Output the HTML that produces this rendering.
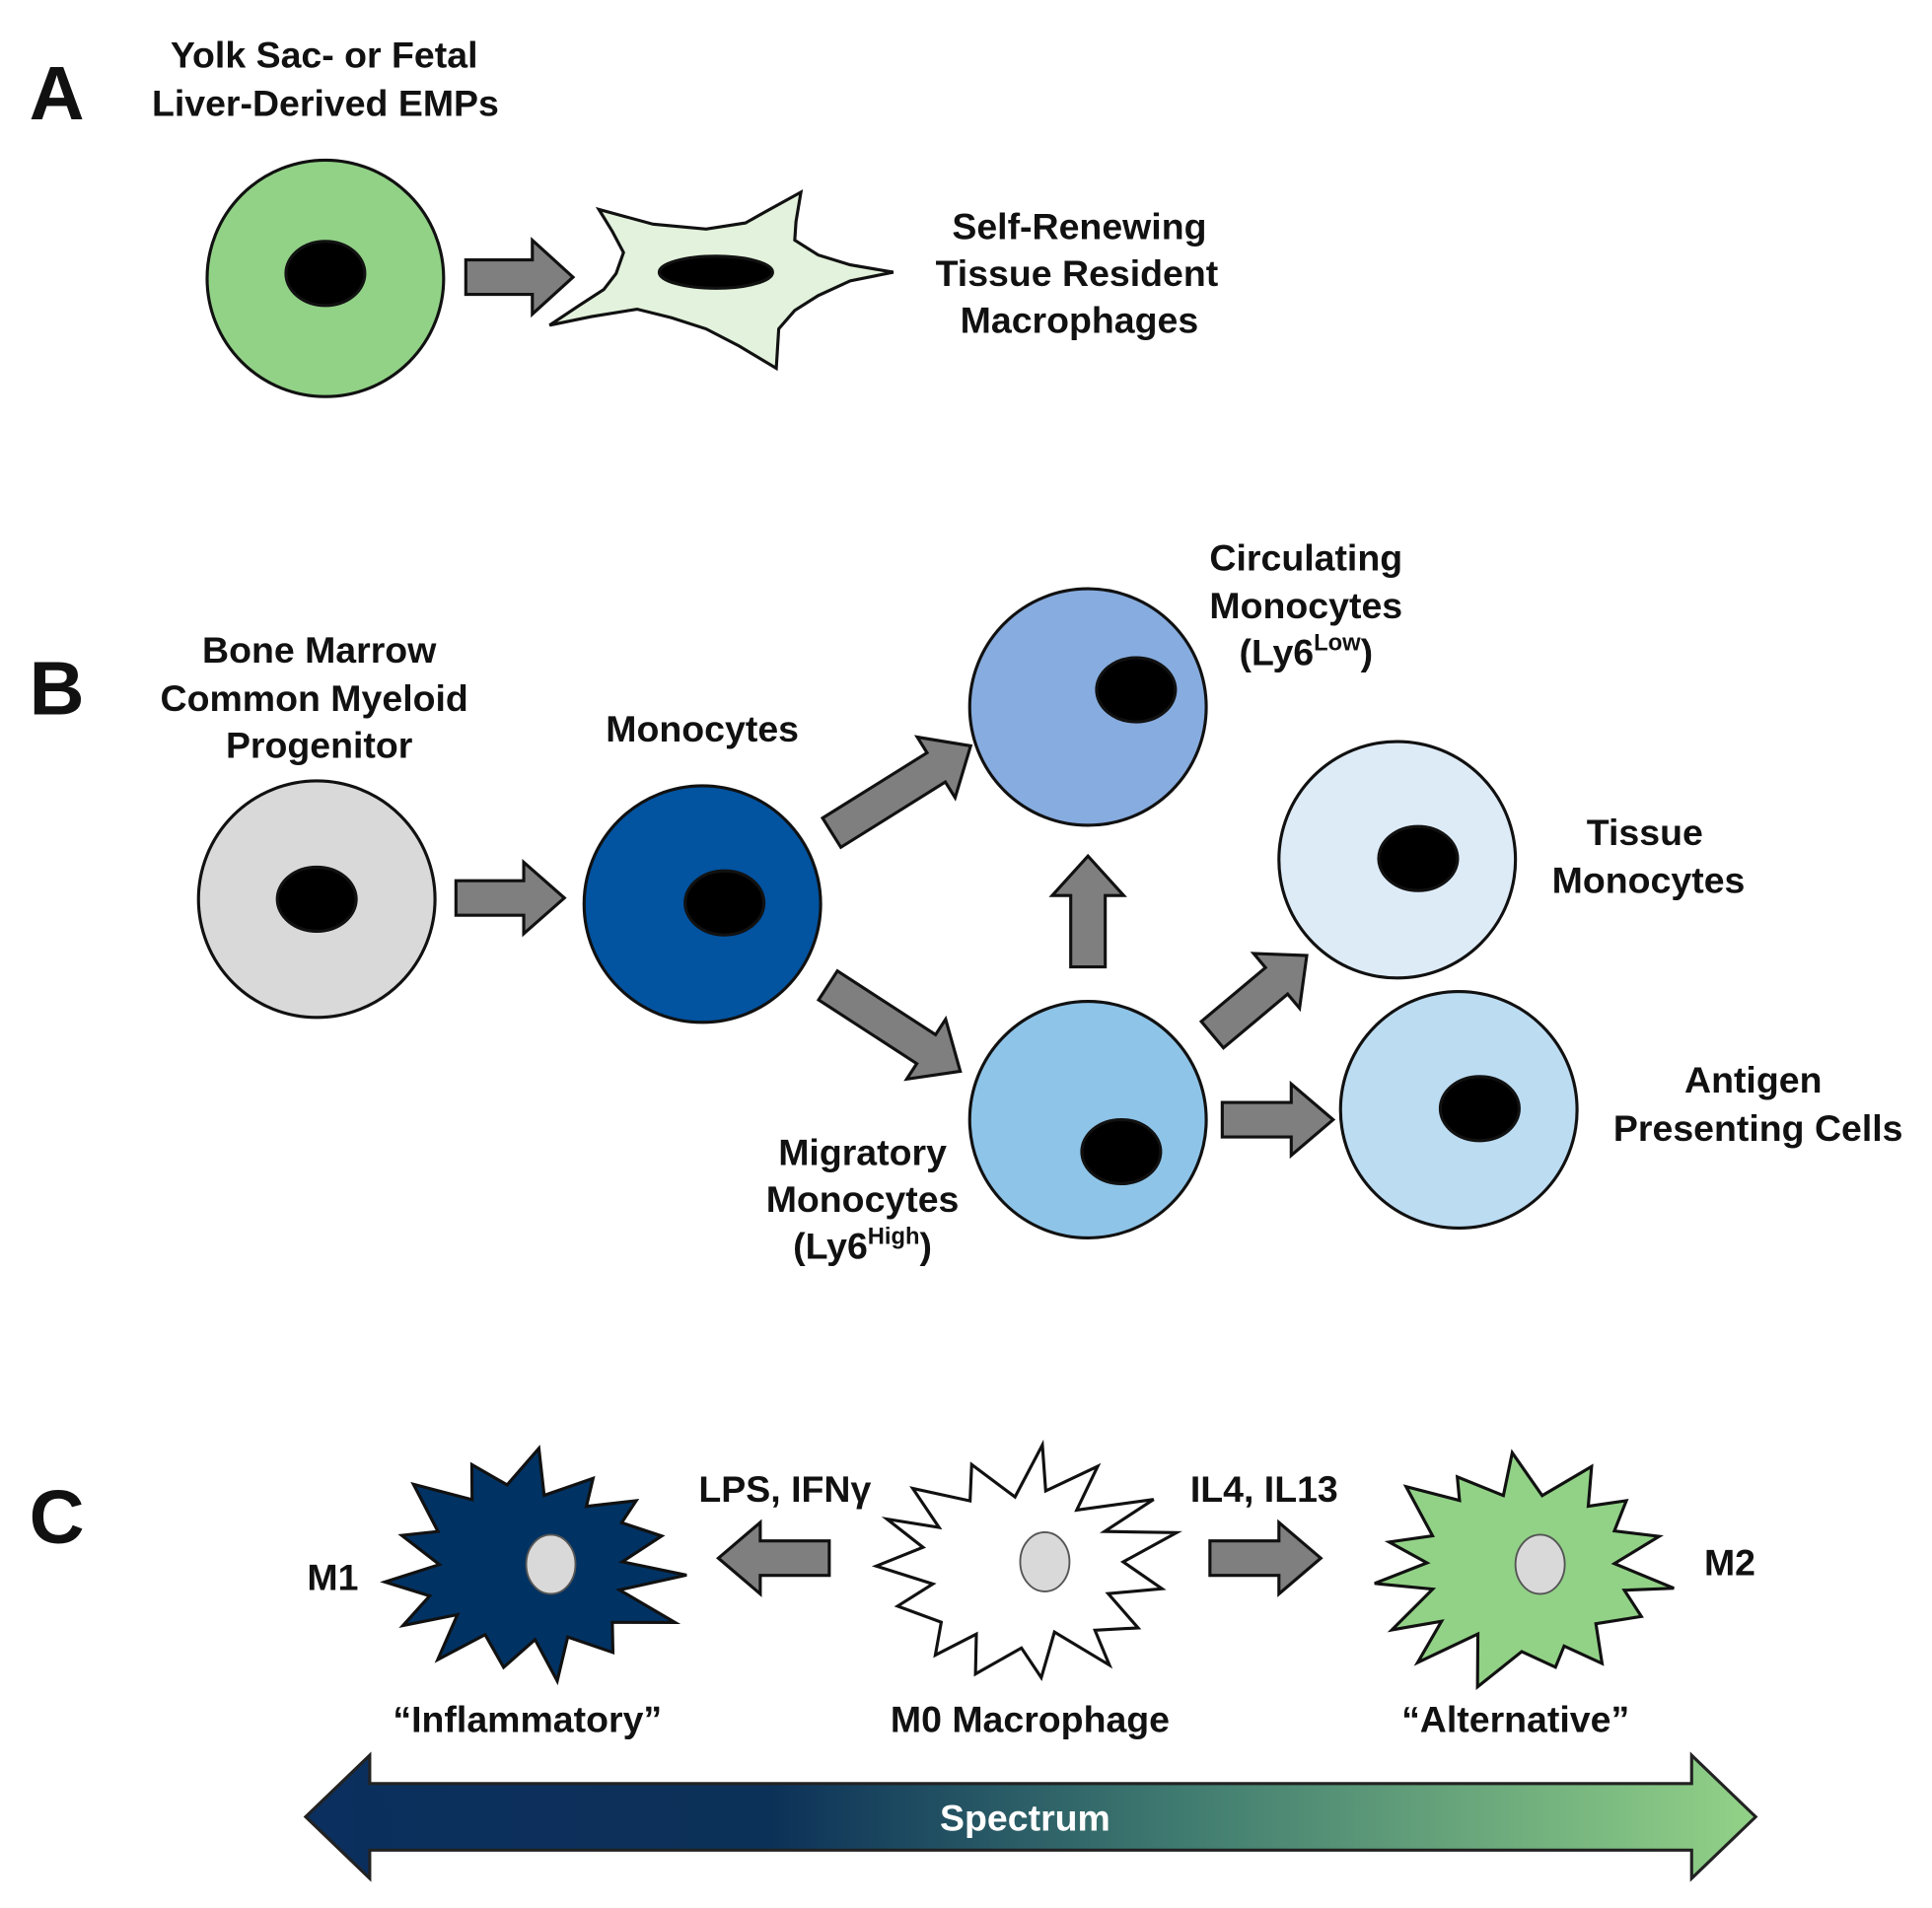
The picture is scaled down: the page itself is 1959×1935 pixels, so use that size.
<!DOCTYPE html>
<html><head><meta charset="utf-8"><style>
html,body{margin:0;padding:0;background:#fff;}
svg{display:block;}
text{font-family:"Liberation Sans",Arial,sans-serif;font-weight:bold;fill:#111;}
</style></head><body>
<svg id="s" width="1959" height="1935" viewBox="0 0 1568 1549" xmlns="http://www.w3.org/2000/svg">
<defs>
<linearGradient id="g" x1="0" x2="1" y1="0" y2="0">
<stop offset="0" stop-color="#0b2f5e"/><stop offset="0.32" stop-color="#0c3158"/>
<stop offset="0.6" stop-color="#3f7a70"/><stop offset="1" stop-color="#92d287"/>
</linearGradient>
</defs>
<g stroke="#111" stroke-width="2.5">
<!-- A -->
<circle cx="264" cy="226" r="96" fill="#92d287"/>
<ellipse cx="264" cy="222" rx="32" ry="26" fill="#000"/>
<polygon points="378,211 432,211 432,195 465,225 432,255 432,239 378,239" fill="#7f7f7f"/>
<polygon points="486,170 530,182 573,186 605,181 621,172 650,156 646,180 645,195 664,207 690,215 725,221 690,228 664,240 645,252 632,267 630,299 600,281 573,267 545,258 517,251 480,257 446,264 470,248 490,235 500,222 506,205 497,188" fill="#e2f2dc"/>
<ellipse cx="581" cy="221" rx="46" ry="13" fill="#000"/>
<!-- B -->
<circle cx="257" cy="730" r="96" fill="#d9d9d9"/>
<ellipse cx="257" cy="730" rx="32" ry="26" fill="#000"/>
<polygon points="370,715 425,715 425,700 458,729 425,758 425,743 370,743" fill="#7f7f7f"/>
<circle cx="570" cy="734" r="96" fill="#0253a0"/>
<ellipse cx="588" cy="733" rx="32" ry="26" fill="#000"/>
<circle cx="883" cy="574" r="96" fill="#87acdf"/>
<ellipse cx="922" cy="560" rx="32" ry="26" fill="#000"/>
<circle cx="883" cy="909" r="96" fill="#8ec4e8"/>
<ellipse cx="910" cy="935" rx="32" ry="26" fill="#000"/>
<circle cx="1134" cy="698" r="96" fill="#ddebf7"/>
<ellipse cx="1151" cy="697" rx="32" ry="26" fill="#000"/>
<circle cx="1184" cy="901" r="96" fill="#bcdcf2"/>
<ellipse cx="1201" cy="900" rx="32" ry="26" fill="#000"/>
<!-- arrows B -->
<polygon points="0,-14 100,-14 100,-29 133,0 100,29 100,14 0,14" fill="#7f7f7f" transform="translate(675,676) rotate(-32)"/>
<polygon points="0,-14 95,-14 95,-29 128,0 95,29 95,14 0,14" fill="#7f7f7f" transform="translate(672,800) rotate(33)"/>
<polygon points="0,-14 58,-14 58,-29 90,0 58,29 58,14 0,14" fill="#7f7f7f" transform="translate(883,785) rotate(-90)"/>
<polygon points="0,-14 68,-14 68,-29 100,0 68,29 68,14 0,14" fill="#7f7f7f" transform="translate(984,840) rotate(-40)"/>
<polygon points="992,895 1048,895 1048,880 1082,909 1048,938 1048,923 992,923" fill="#7f7f7f"/>
<!-- C arrows -->
<polygon points="673,1251 617,1251 617,1236 583,1265 617,1294 617,1279 673,1279" fill="#7f7f7f"/>
<polygon points="982,1251 1038,1251 1038,1236 1072,1265 1038,1294 1038,1279 982,1279" fill="#7f7f7f"/>
<g id="stars"></g>
<polygon points="248,1475 300,1425 300,1448 1373,1448 1373,1425 1425,1475 1373,1525 1373,1502 300,1502 300,1525" fill="url(#g)" stroke="#222"/>
</g>
<text x="46" y="97" font-size="62" text-anchor="middle">A</text>
<text x="46" y="580" font-size="62" text-anchor="middle">B</text>
<text x="46" y="1253" font-size="62" text-anchor="middle">C</text>
<g font-size="30" text-anchor="middle">
<text x="263" y="55">Yolk Sac- or Fetal</text>
<text x="264" y="94">Liver-Derived EMPs</text>
<text x="876" y="194">Self-Renewing</text>
<text x="874" y="232">Tissue Resident</text>
<text x="876" y="270">Macrophages</text>
<text x="259" y="538">Bone Marrow</text>
<text x="255" y="577">Common Myeloid</text>
<text x="259" y="615">Progenitor</text>
<text x="570" y="602">Monocytes</text>
<text x="1060" y="463">Circulating</text>
<text x="1060" y="502">Monocytes</text>
<text x="1060" y="540">(Ly6<tspan font-size="19" dy="-12">Low</tspan><tspan dy="12">)</tspan></text>
<text x="1335" y="686">Tissue</text>
<text x="1338" y="725">Monocytes</text>
<text x="700" y="946">Migratory</text>
<text x="700" y="984">Monocytes</text>
<text x="700" y="1022">(Ly6<tspan font-size="19" dy="-12">High</tspan><tspan dy="12">)</tspan></text>
<text x="1423" y="887">Antigen</text>
<text x="1427" y="926">Presenting Cells</text>
<text x="637" y="1219">LPS, IFNγ</text>
<text x="1026" y="1219">IL4, IL13</text>
<text x="270" y="1291">M1</text>
<text x="1404" y="1279">M2</text>
<text x="428" y="1406">“Inflammatory”</text>
<text x="836" y="1406">M0 Macrophage</text>
<text x="1230" y="1406">“Alternative”</text>
<text x="832" y="1486" style="fill:#fff">Spectrum</text>
</g>
</svg>
<script>
(function(){
var g=document.getElementById('stars');
function star(cx,cy,n,rox,roy,rix,riy,fill,seed,rot,nx){
 var pts=[];var s=seed;
 function r(){s=(s*9301+49297)%233280;return s/233280;}
 for(var i=0;i<2*n;i++){
  var a=rot+Math.PI*i/n+(r()-0.5)*0.14;
  var k=(i%2==0)?(0.82+0.2*r()):(0.85+0.25*r());
  var rx=(i%2==0)?rox:rix, ry=(i%2==0)?roy:riy;
  pts.push((cx+k*rx*Math.cos(a)).toFixed(1)+','+(cy+k*ry*Math.sin(a)).toFixed(1));
 }
 var p=document.createElementNS('http://www.w3.org/2000/svg','polygon');
 p.setAttribute('points',pts.join(' '));p.setAttribute('fill',fill);
 g.appendChild(p);
 var e=document.createElementNS('http://www.w3.org/2000/svg','ellipse');
 e.setAttribute('cx',nx);e.setAttribute('cy',cy-4);e.setAttribute('rx',20);e.setAttribute('ry',24);
 e.setAttribute('fill','#d9d9d9');e.setAttribute('stroke-width','1.5');e.setAttribute('stroke','#555');
 g.appendChild(e);
}
star(430,1274,15,132,98,82,64,'#003263',17,-1.57,447);
star(830,1272,15,132,98,82,64,'#ffffff',41,-1.5,848);
star(1234,1274,15,132,98,82,64,'#92d287',73,-1.57,1250);
})();
</script>
</body></html>
